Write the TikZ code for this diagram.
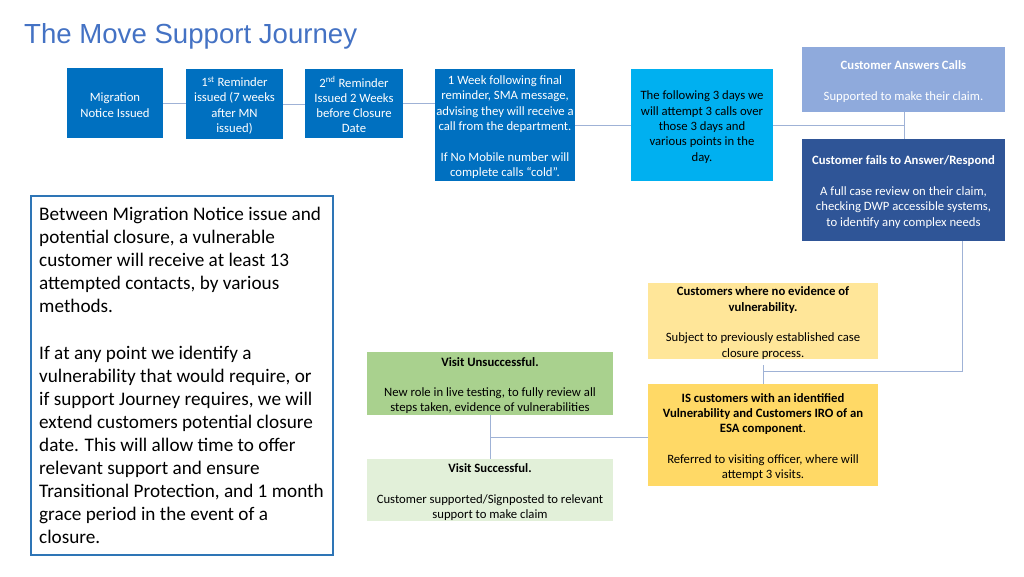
\documentclass[tikz,border=0pt]{standalone}
\usepackage{fontspec}
\setmainfont{Carlito}
\newfontfamily\titlefont{Liberation Sans}
\newcommand\tpad{\rule{0pt}{13pt}}
\begin{document}
\begin{tikzpicture}[x=1pt,y=-1pt,
  box/.style={rectangle,inner sep=0pt,outer sep=0pt,align=center,
    font=\fontsize{12.7}{15.3}\selectfont},
  conn/.style={draw=lineC,line width=0.9pt}]
\definecolor{dblue}{HTML}{0070C0}
\definecolor{cyanB}{HTML}{00B0F0}
\definecolor{lblue}{HTML}{8FAADC}
\definecolor{nblue}{HTML}{2F5597}
\definecolor{lyel}{HTML}{FFE699}
\definecolor{dyel}{HTML}{FFD966}
\definecolor{dgreen}{HTML}{A9D18E}
\definecolor{lgreen}{HTML}{E2F0D9}
\definecolor{titleC}{HTML}{4472C4}
\definecolor{borderC}{HTML}{2E75B6}
\definecolor{lineC}{HTML}{9FB2D6}
\useasboundingbox (0,0) rectangle (1024,576);
\fill[white] (0,0) rectangle (1024,576);

\node[anchor=base west,font=\titlefont\fontsize{27.6}{30}\selectfont,text=titleC,inner sep=0pt] (title) at (24,43) {The Move Support Journey};

% boxes
\node[box,fill=dblue,text=white,minimum width=96,minimum height=70] (mn) at (115,103) {\tpad Migration\\Notice Issued};
\node[box,fill=dblue,text=white,minimum width=97,minimum height=70] (r1) at (234.5,104) {\tpad 1\textsuperscript{st} Reminder\\issued (7 weeks\\after MN\\issued)};
\node[box,fill=dblue,text=white,minimum width=98,minimum height=69] (r2) at (354,103.5) {\tpad 2\textsuperscript{nd} Reminder\\Issued 2 Weeks\\before Closure\\Date};
\node[box,fill=dblue,text=white,minimum width=140,minimum height=112] (wk) at (505,125) {\tpad 1 Week following final\\reminder, SMA message,\\advising they will receive a\\call from the department.\\[15.3pt]If No Mobile number will\\complete calls “cold”.};
\node[box,fill=cyanB,text=black,minimum width=142,minimum height=112] (d3) at (702,125) {\tpad The following 3 days we\\will attempt 3 calls over\\those 3 days and\\various points in the\\day.};
\node[box,fill=lblue,text=white,minimum width=203,minimum height=65] (ans) at (903.5,79.5) {\tpad\textbf{Customer Answers Calls}\\[15.3pt]Supported to make their claim.};
\node[box,fill=nblue,text=white,minimum width=203,minimum height=102] (fail) at (903.5,190) {\tpad\textbf{Customer fails to Answer/Respond}\\[15.3pt]A full case review on their claim,\\checking DWP accessible systems,\\to identify any complex needs};
\node[box,fill=lyel,text=black,minimum width=230,minimum height=74] (noev) at (763,321) {\tpad\textbf{Customers where no evidence of}\\\textbf{vulnerability.}\\[15.3pt]Subject to previously established case\\closure process.};
\node[box,fill=dyel,text=black,minimum width=230,minimum height=102] (is) at (763,435) {\tpad\textbf{IS customers with an identified}\\\textbf{Vulnerability and Customers IRO of an}\\\textbf{ESA component}.\\[15.3pt]Referred to visiting officer, where will\\attempt 3 visits.};
\node[box,fill=dgreen,text=black,minimum width=246,minimum height=63] (vu) at (490,383.5) {\tpad\textbf{Visit Unsuccessful.}\\[15.3pt]New role in live testing, to fully review all\\steps taken, evidence of vulnerabilities};
\node[box,fill=lgreen,text=black,minimum width=246,minimum height=62] (vs) at (490,490) {\tpad\textbf{Visit Successful.}\\[15.3pt]Customer supported/Signposted to relevant\\support to make claim};

% left text box
\node[rectangle,draw=borderC,line width=1.5pt,fill=white,minimum width=302,minimum height=359,inner sep=0pt] (lbox) at (182,375.5) {};
\node[anchor=north west,align=left,inner sep=0pt,font=\fontsize{19.2}{23.08}\selectfont] (ltext) at (39,207) {Between Migration Notice issue and\\potential closure, a vulnerable\\customer will receive at least 13\\attempted contacts, by various\\methods.\\[23.08pt]If at any point we identify a\\vulnerability that would require, or\\if support Journey requires, we will\\extend customers potential closure\\date. This will allow time to offer\\relevant support and ensure\\Transitional Protection, and 1 month\\grace period in the event of a\\closure.};

% connectors
\coordinate (j1) at (904,125);
\coordinate (j2) at (962,371);
\coordinate (j3) at (763,371);
\coordinate (j4) at (490,437);
\draw[conn] (mn.east) -- (r1.west |- mn.east);
\draw[conn] (r1.east) -- (r2.west |- r1.east);
\draw[conn] (r2.east) -- (wk.west |- r2.east);
\draw[conn] (wk.east) -- (d3.west);
\draw[conn] (d3.east) -- (j1);
\draw[conn] (ans.south -| j1) -- (fail.north -| j1);
\draw[conn] (fail.south -| j2) -- (j2) -- (j3);
\draw[conn] ([yshift=-6pt]noev.south) -- (is.north);
\draw[conn] (vu.south) -- (vs.north);
\draw[conn] (j4) -- (is.west |- j4);
\end{tikzpicture}
\end{document}
